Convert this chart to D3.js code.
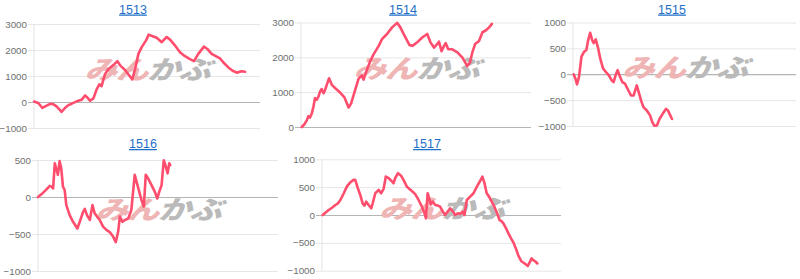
<!DOCTYPE html>
<html><head><meta charset="utf-8">
<script src="https://cdn.jsdelivr.net/npm/d3@7/dist/d3.min.js"></script>
<style>
html,body{margin:0;padding:0;background:#fff;}
svg{display:block;font-family:Arial,"Liberation Sans",sans-serif;}
</style></head><body>
<svg id="c" width="800" height="279"></svg>
<script>
// ---- data ----
const titles = ["1513","1514","1515","1516","1517"];

const ticks1513 = [-1000,0,1000,2000,3000];
const ticks1514 = [0,1000,2000,3000];
const ticks1515 = [-1000,-500,0,500,1000];
const ticks1516 = [-1000,-500,0,500];
const ticks1517 = [-1000,-500,0,500,1000];

const days1513 = [0,1.9,3.7,5.6,7.4,8.6,10,12.2,13.7,15.2,16.7,18.9,21.1,22.6,23.6,24.8,26.3,27.7,28.9,29.9,31.4,32.9,35.1,36.9,38.3,40.3,41.7,43.5,44.7,46.2,47.6,49.6,50.7,52.8,54.3,56.5,58.7,60.2,62.4,64.6,66.8,69,70.8,72.7,75.2,76.7,78.6,82.3,83.8,86,87.9,89.7,91.9,93.4];
const vals1513 = [20,-40,-230,-140,-65,-90,-170,-380,-230,-120,-65,25,90,250,170,50,140,480,680,610,1070,1260,1420,1570,1390,1230,1070,870,1260,1850,2100,2370,2590,2520,2470,2300,2500,2400,2170,1910,1760,1650,1570,1850,2130,2040,1850,1680,1520,1330,1200,1130,1180,1160];

const days1514 = [0.3,1.5,2.5,3.2,3.9,4.7,5.4,6.1,6.8,7.6,8.3,9,9.8,10.5,11.2,12.2,13.4,14.8,17,18.9,20.7,21.8,23.6,25,26.5,27.2,28.7,30.1,31.6,33.8,35.2,37.4,39.6,41.8,43.2,45.4,47.2,48.6,50.5,52.7,54.9,56.3,57.8,59.2,60,61.1,62.2,62.9,64,65.8,68,70.2,72.3,73.4,74.5,75.7,77.4,78.9,80.3,81.8,83];
const vals1514 = [0,80,190,310,270,390,580,830,780,870,1020,1090,970,1070,1210,1400,1210,1120,990,850,560,680,1070,1380,1480,1360,1650,1890,2090,2330,2520,2670,2860,2990,2860,2570,2350,2330,2430,2570,2670,2430,2280,2380,2450,2180,2330,2410,2230,2230,2140,1990,1750,1840,2140,2380,2470,2720,2770,2860,2960];

const days1515 = [0.3,1.1,1.8,2.7,3.8,5,6,6.8,7.7,8.6,9.3,10.2,11.3,12.2,13.5,14.7,16.1,17.3,18.2,19.1,20,21.1,22.1,23.3,24.8,26,27.2,28.6,29.6,30.5,31.6,33.1,34.6,35.6,36.5,37.6,38.8,40.2,41.7,42.6,43.3,44.4];
const vals1515 = [0,-85,-195,-50,340,435,470,660,800,660,600,675,500,305,110,45,-20,-115,-150,-20,80,-50,-150,-180,-310,-410,-410,-215,-365,-505,-635,-700,-800,-930,-995,-990,-865,-765,-670,-700,-765,-865];

const days1516 = [0,1.4,2.8,4.2,4.9,5.6,6.3,7,7.6,8.3,9,9.7,10.4,11.1,11.8,13.2,14.6,16.4,17.4,18.8,19.5,20.4,21.6,22.7,23.6,24.6,25.7,27.1,28.5,29.9,31.3,32.4,33.4,34.1,35.2,36.2,37.6,38.9,40.3,43.1,44.1,44.9,45.9,47.3,48.7,49.7,50.5,51.5,52.4,53.1,54,54.7,55.1];
const vals1516 = [0,36,80,125,150,140,115,455,385,300,485,385,140,95,-110,-245,-335,-425,-335,-200,-160,-245,-310,-110,-220,-265,-310,-400,-445,-475,-535,-610,-470,-265,-335,-310,-290,-175,300,-40,-130,300,250,160,70,-20,70,160,495,430,320,455,430];

const days1517 = [0.3,1.4,2.8,4.2,5.6,6.7,7.7,9.1,10.4,11.8,13.2,13.9,15,16,17,17.8,18.5,19.5,20.6,21.2,22.3,23.7,24.7,25.8,26.7,27.9,29,29.9,30.6,31.8,33,34.1,35.5,36.5,37.6,39,40.4,41.8,42.9,43.5,44.2,44.8,45.5,46.4,47.4,48.5,49.4,50.6,51.5,52.6,53.6,54.7,55.7,56.8,57.8,58.8,59.6,60.6,62,63.4,64.8,66.2,67.1,68,68.9,69.9,71,72.1,73.1,74.3,75.1,75.9,76.9,78,79.1,80.1,81.1,82.2,83.4,84.8,86.1,87,87.7,88.4,89.4,90.1];
const vals1517 = [0,40,90,130,180,210,270,390,510,585,630,630,480,360,210,170,240,180,120,210,390,450,390,470,690,660,615,570,660,750,710,630,510,470,430,375,270,150,30,-60,390,315,190,240,180,170,150,60,0,60,120,70,0,30,20,60,0,270,330,390,510,615,690,570,390,330,240,150,50,-90,-110,-150,-230,-330,-420,-495,-600,-735,-830,-870,-915,-840,-780,-810,-840,-870];

const dayDomain = [0,100];

// ---- layout (positions only) ----
const panels = [
  {title:titles[0], days:days1513, vals:vals1513, ticks:ticks1513, tx:133, ty:13.5, l:34,  r:260, t:24,  b:128},
  {title:titles[1], days:days1514, vals:vals1514, ticks:ticks1514, tx:403, ty:13.5, l:301, r:531, t:22.5,b:127},
  {title:titles[2], days:days1515, vals:vals1515, ticks:ticks1515, tx:672, ty:13.5, l:573, r:796, t:22.5,b:126},
  {title:titles[3], days:days1516, vals:vals1516, ticks:ticks1516, tx:143, ty:148,  l:38,  r:278, t:160, b:271},
  {title:titles[4], days:days1517, vals:vals1517, ticks:ticks1517, tx:427, ty:148,  l:322, r:561, t:159.3,b:270.7}
];

const svg = d3.select("#c");

panels.forEach(p => {
  const g = svg.append("g");
  const x = d3.scaleLinear().domain(dayDomain).range([p.l, p.r]);
  const y = d3.scaleLinear().domain(d3.extent(p.ticks)).range([p.b, p.t]);

  // gridlines + labels via axis
  const ax = d3.axisLeft(y).tickValues(p.ticks).tickFormat(d3.format("d"))
      .tickSize(-(p.r - p.l) - 6).tickPadding(1);
  const axG = g.append("g").attr("transform", `translate(${p.l - 6},0)`).call(ax);
  axG.select(".domain").remove();
  axG.selectAll(".tick line")
     .attr("stroke", d => d === 0 ? "#b5b5b5" : "#e6e6e6")
     .attr("stroke-width", 1);
  axG.selectAll(".tick text").attr("fill","#6f6f6f").attr("font-size","9.8px")
     .attr("font-family","Arial, 'Liberation Sans', sans-serif");
  // vertical axis line
  g.append("line").attr("x1",p.l).attr("x2",p.l).attr("y1",p.t).attr("y2",p.b)
     .attr("stroke","#e3e3e3").attr("stroke-width",1);
  // baseline on top of others
  g.append("line").attr("x1",p.l-6).attr("x2",p.r).attr("y1",Math.round(y(0))+0.5).attr("y2",Math.round(y(0))+0.5)
     .attr("stroke","#b5b5b5").attr("stroke-width",1);

  // watermark
  const cx = (p.l + p.r)/2, cy = (p.t + p.b)/2 + 3;
  const wm = g.append("text").attr("transform", `translate(${cx},${cy}) scale(1.2,0.95) skewX(-16)`)
     .attr("text-anchor","middle").attr("font-family","'Noto Sans CJK JP', sans-serif")
     .attr("font-weight","900").attr("font-size","27px").attr("letter-spacing","-1px");
  wm.append("tspan").text("みん").attr("fill","#efb4b4");
  wm.append("tspan").text("かぶ").attr("fill","#bababa");

  // title
  g.append("text").attr("x",p.tx).attr("y",p.ty).attr("text-anchor","middle")
     .attr("font-size","12.5px").attr("fill","#1f6fc8")
     .attr("text-decoration","underline").text(p.title);

  // line
  const pts = p.days.map((d,i)=>[d,p.vals[i]]);
  g.append("path").datum(pts)
     .attr("fill","none").attr("stroke","#ff4d6d").attr("stroke-width",2.6)
     .attr("stroke-linejoin","round").attr("stroke-linecap","round")
     .attr("d", d3.line().x(d=>x(d[0])).y(d=>y(d[1])));
});
</script>
</body></html>
